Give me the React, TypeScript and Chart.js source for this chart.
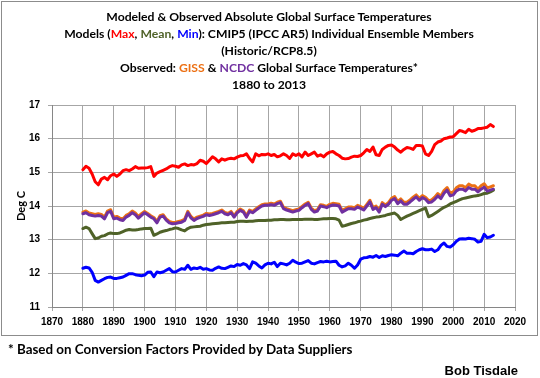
import React, { useEffect, useRef } from "react";
import { Chart, registerables } from "chart.js";

Chart.register(...registerables);

// Categories: years 1880..2013
const startYear = 1880;
const yearCount = 134;
const years: number[] = Array.from({ length: yearCount }, (_, i) => startYear + i);

const xTicksMin = 1870;
const xTicksMax = 2020;
const yTicksMin = 11;
const yTicksMax = 17;

// Model maximum (red)
const modelMax = [
  15.08, 15.18, 15.12, 14.95, 14.72, 14.63, 14.8, 14.85, 14.78, 14.9,
  14.95, 14.88, 14.95, 15.05, 15.08, 15.05, 15.1, 15.17, 15.12, 15.13,
  15.13, 15.14, 15.17, 14.88, 14.98, 15.02, 15.06, 15.1, 15.16, 15.2,
  15.18, 15.15, 15.22, 15.25, 15.2, 15.23, 15.22, 15.26, 15.36, 15.33,
  15.26, 15.36, 15.46, 15.4, 15.31, 15.4, 15.36, 15.4, 15.42, 15.4,
  15.45, 15.49, 15.5, 15.55, 15.41, 15.31, 15.55, 15.49, 15.53, 15.52,
  15.55, 15.5, 15.53, 15.46, 15.49, 15.55, 15.5, 15.41, 15.55, 15.5,
  15.55, 15.46, 15.6, 15.5, 15.55, 15.6, 15.48, 15.52, 15.46, 15.55,
  15.6, 15.62, 15.55, 15.5, 15.42, 15.4, 15.41, 15.45, 15.48, 15.47,
  15.5, 15.58, 15.68, 15.62, 15.75, 15.52, 15.5, 15.68, 15.75, 15.8,
  15.81, 15.75, 15.66, 15.6, 15.68, 15.74, 15.72, 15.68, 15.8, 15.8,
  15.78, 15.55, 15.5, 15.62, 15.82, 15.9, 15.93, 16.0, 16.02, 16.05,
  16.06, 16.15, 16.24, 16.22, 16.18, 16.28, 16.22, 16.25, 16.3, 16.3,
  16.32, 16.34, 16.42, 16.36,
];

// Model mean (olive)
const modelMean = [
  13.33, 13.37, 13.33, 13.18, 13.03, 13.05, 13.1, 13.12, 13.17, 13.2,
  13.18, 13.18, 13.2, 13.24, 13.28, 13.3, 13.29, 13.29, 13.3, 13.32,
  13.33, 13.33, 13.34, 13.13, 13.17, 13.22, 13.25, 13.27, 13.3, 13.32,
  13.35, 13.33, 13.29, 13.26, 13.33, 13.37, 13.38, 13.39, 13.4, 13.43,
  13.45, 13.46, 13.47, 13.48, 13.49, 13.5, 13.5, 13.51, 13.52, 13.52,
  13.54, 13.55, 13.55, 13.54, 13.55, 13.55, 13.56, 13.57, 13.57, 13.57,
  13.58, 13.58, 13.59, 13.59, 13.6, 13.6, 13.59, 13.59, 13.6, 13.6,
  13.6, 13.6, 13.61, 13.61, 13.61, 13.6, 13.6, 13.61, 13.62, 13.62,
  13.63, 13.63, 13.62, 13.58, 13.4, 13.42, 13.45, 13.48, 13.5, 13.53,
  13.55, 13.58, 13.6, 13.63, 13.65, 13.67, 13.68, 13.7, 13.72, 13.75,
  13.77, 13.79, 13.72, 13.6, 13.65, 13.7, 13.74, 13.78, 13.82, 13.86,
  13.9, 13.94, 13.68, 13.72, 13.78, 13.84, 13.9, 13.96, 14.0, 14.06,
  14.1, 14.14, 14.18, 14.22, 14.24, 14.26, 14.28, 14.3, 14.31, 14.34,
  14.37, 14.38, 14.42, 14.47,
];

// Model minimum (blue)
const modelMin = [
  12.15, 12.18, 12.16, 12.03, 11.79, 11.74, 11.79, 11.84, 11.88, 11.89,
  11.85, 11.85, 11.87, 11.89, 11.94, 11.99, 11.99, 11.96, 11.94, 11.93,
  11.95, 12.03, 12.04, 11.9, 12.04, 12.02, 12.04, 12.09, 12.14, 12.05,
  12.04, 12.09, 12.14, 12.12, 12.24, 12.12, 12.16, 12.14, 12.18, 12.12,
  12.14, 12.1, 12.09, 12.15, 12.19, 12.15, 12.14, 12.18, 12.22, 12.2,
  12.26, 12.24, 12.29, 12.25, 12.14, 12.34, 12.3, 12.22, 12.16, 12.25,
  12.3, 12.28, 12.33, 12.2, 12.3, 12.28, 12.25, 12.3, 12.39, 12.33,
  12.29, 12.3, 12.34, 12.38, 12.3, 12.28, 12.32, 12.35, 12.34, 12.36,
  12.34, 12.35, 12.36, 12.24, 12.19, 12.22, 12.3, 12.24, 12.15, 12.25,
  12.42, 12.46, 12.47, 12.5, 12.48, 12.53, 12.47, 12.52, 12.5, 12.53,
  12.55, 12.54, 12.52, 12.6, 12.66, 12.6, 12.6, 12.58, 12.65, 12.7,
  12.73, 12.7, 12.7, 12.72, 12.65, 12.7, 12.83, 12.9, 12.8, 12.78,
  12.85, 12.95, 13.02, 13.03, 13.02, 13.04, 13.03, 13.01, 12.93, 12.95,
  13.16, 13.06, 13.08, 13.13,
];

// Observed GISS (orange)
const giss = [
  13.82, 13.85, 13.79, 13.77, 13.75, 13.77, 13.75, 13.67, 13.85, 13.89,
  13.67, 13.69, 13.64, 13.62, 13.72, 13.77, 13.85, 13.79, 13.69, 13.77,
  13.84, 13.78, 13.71, 13.66, 13.54, 13.71, 13.74, 13.62, 13.54, 13.51,
  13.52, 13.54, 13.56, 13.61, 13.84, 13.69, 13.61, 13.67, 13.7, 13.73,
  13.78, 13.76, 13.78, 13.81, 13.84, 13.88, 13.81, 13.78, 13.84, 13.71,
  13.84, 13.91, 13.86, 13.71, 13.88, 13.84, 13.91, 13.98, 14.04, 14.06,
  14.06, 14.08, 14.06, 14.11, 14.14, 13.96, 13.92, 13.89, 13.86, 13.89,
  13.91, 13.99, 14.06, 14.11, 13.94, 13.86, 13.89, 14.04, 14.02, 13.99,
  14.05, 14.08, 14.07, 14.05, 13.87, 13.92, 13.97, 13.97, 13.95, 14.02,
  13.98, 13.93, 14.05, 14.17, 13.95, 14.0, 13.87, 14.1, 14.03, 14.1,
  14.23, 14.28, 14.13, 14.21, 14.11, 14.11, 14.18, 14.26, 14.33, 14.23,
  14.31, 14.26, 14.16, 14.18, 14.26, 14.37, 14.29, 14.46, 14.55, 14.38,
  14.42, 14.54, 14.6, 14.6, 14.54, 14.65, 14.6, 14.6, 14.5, 14.6,
  14.66, 14.54, 14.57, 14.6,
];

// Observed NCDC (purple)
const ncdc = [
  13.77, 13.8, 13.74, 13.72, 13.7, 13.72, 13.7, 13.62, 13.8, 13.84,
  13.62, 13.64, 13.59, 13.57, 13.67, 13.72, 13.8, 13.74, 13.64, 13.72,
  13.8, 13.74, 13.67, 13.62, 13.5, 13.67, 13.7, 13.58, 13.5, 13.47,
  13.48, 13.5, 13.52, 13.57, 13.8, 13.65, 13.57, 13.63, 13.66, 13.69,
  13.74, 13.72, 13.74, 13.77, 13.8, 13.84, 13.77, 13.74, 13.8, 13.67,
  13.8, 13.87, 13.82, 13.67, 13.84, 13.8, 13.87, 13.94, 14.0, 14.02,
  14.02, 14.04, 14.02, 14.07, 14.1, 13.92, 13.88, 13.85, 13.82, 13.85,
  13.87, 13.95, 14.02, 14.07, 13.9, 13.82, 13.85, 14.0, 13.98, 13.95,
  14.0, 14.03, 14.02, 14.0, 13.82, 13.87, 13.92, 13.92, 13.9, 13.97,
  13.93, 13.88, 14.0, 14.12, 13.9, 13.95, 13.82, 14.05, 13.98, 14.05,
  14.17, 14.22, 14.07, 14.15, 14.05, 14.05, 14.12, 14.2, 14.27, 14.17,
  14.25, 14.2, 14.1, 14.12, 14.2, 14.3, 14.22, 14.38, 14.47, 14.3,
  14.33, 14.45, 14.5, 14.5, 14.45, 14.55, 14.5, 14.5, 14.42, 14.5,
  14.56, 14.44, 14.47, 14.5,
];

const tickFont = { family: "'Liberation Sans', Arial, sans-serif", size: 10, weight: "bold" as const };

const titleStyle: React.CSSProperties = {
  position: "absolute",
  left: 0,
  top: 8,
  width: 538,
  textAlign: "center",
  fontFamily: "Lato, 'Open Sans', sans-serif",
  fontWeight: 700,
  fontSize: "12.2px",
  lineHeight: "17px",
  color: "#000",
  whiteSpace: "nowrap",
};

export default function App() {
  const ref = useRef<HTMLCanvasElement>(null);

  useEffect(() => {
    document.body.style.margin = "0";
    const pts = (arr: number[]) => arr.map((v, i) => ({ x: years[i], y: v }));
    const mk = (label: string, arr: number[], color: string) => ({
      label,
      data: pts(arr),
      borderColor: color,
      backgroundColor: color,
      borderWidth: 3,
      pointRadius: 0,
      tension: 0,
      fill: false,
      borderJoinStyle: "round" as const,
      borderCapStyle: "round" as const,
    });
    const chart = new Chart(ref.current!, {
      type: "line",
      data: {
        datasets: [
          mk("NCDC", ncdc, "#7030a0"),
          mk("GISS", giss, "#ec7014"),
          mk("Max", modelMax, "#ff0000"),
          mk("Mean", modelMean, "#4f6228"),
          mk("Min", modelMin, "#0000ff"),
        ],
      },
      options: {
        responsive: false,
        animation: false,
        events: [],
        layout: { padding: { top: 105, right: 25, bottom: 49, left: 0 } },
        plugins: { legend: { display: false }, tooltip: { enabled: false }, title: { display: false } },
        scales: {
          x: {
            type: "linear",
            min: xTicksMin,
            max: xTicksMax,
            ticks: {
              stepSize: 10,
              autoSkip: false,
              maxRotation: 0,
              padding: 5,
              color: "#000",
              font: tickFont,
              callback: (v: any) => String(v),
            },
            grid: { color: "#a6a6a6", lineWidth: 1, tickLength: 4 },
            border: { color: "#868686", width: 1 },
            afterFit: (s: any) => {
              s.height = 22;
            },
          },
          y: {
            min: yTicksMin,
            max: yTicksMax,
            ticks: {
              stepSize: 1,
              padding: 8,
              color: "#000",
              font: tickFont,
            },
            grid: { color: "#a6a6a6", lineWidth: 1, tickLength: 4 },
            border: { color: "#868686", width: 1 },
            title: {
              display: true,
              text: "Deg C",
              color: "#000",
              font: { family: "Lato, sans-serif", size: 11, weight: "bold" },
              padding: { top: 15, bottom: 0 },
            },
            afterFit: (s: any) => {
              s.width = 52;
            },
          },
        },
      },
    });
    return () => chart.destroy();
  }, []);

  return (
    <div style={{ position: "relative", width: 540, height: 378, background: "#fff", overflow: "hidden" }}>
      <div
        style={{
          position: "absolute",
          left: 1,
          top: 1,
          width: 535,
          height: 333,
          border: "1px solid #8c8c8c",
        }}
      />
      <canvas ref={ref} width={540} height={378} style={{ position: "absolute", left: 0, top: 0 }} />
      <div style={titleStyle}>
        <div>Modeled &amp; Observed Absolute Global Surface Temperatures</div>
        <div>
          Models (<span style={{ color: "#ff0000" }}>Max</span>,{" "}
          <span style={{ color: "#4f6228" }}>Mean</span>,{" "}
          <span style={{ color: "#0000ff" }}>Min</span>): CMIP5 (IPCC AR5) Individual Ensemble Members
        </div>
        <div>(Historic/RCP8.5)</div>
        <div>
          Observed: <span style={{ color: "#ec7014" }}>GISS</span> &amp;{" "}
          <span style={{ color: "#7030a0" }}>NCDC</span> Global Surface Temperatures*
        </div>
        <div>1880 to 2013</div>
      </div>
      <div
        style={{
          position: "absolute",
          left: 8,
          top: 340,
          fontFamily: "Lato, 'Open Sans', sans-serif",
          fontWeight: 700,
          fontSize: "13.4px",
          lineHeight: "18px",
          color: "#000",
          whiteSpace: "nowrap",
        }}
      >
        * Based on Conversion Factors Provided by Data Suppliers
      </div>
      <div
        style={{
          position: "absolute",
          right: 22,
          top: 362,
          fontFamily: "'Liberation Sans', Arial, sans-serif",
          fontWeight: 700,
          fontSize: "13px",
          lineHeight: "18px",
          color: "#000",
          whiteSpace: "nowrap",
        }}
      >
        Bob Tisdale
      </div>
    </div>
  );
}
